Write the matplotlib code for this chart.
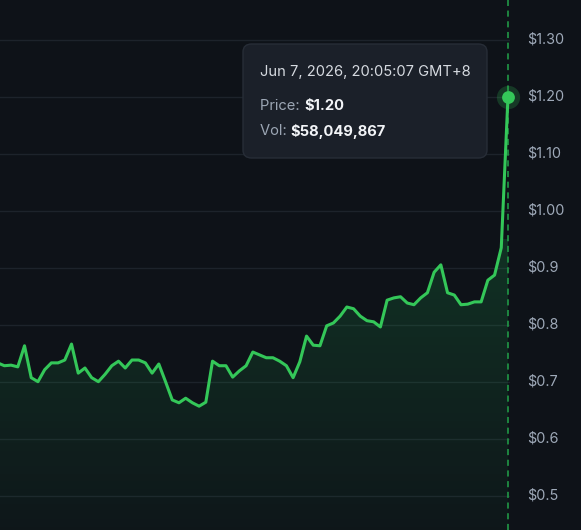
import numpy as np
import matplotlib.pyplot as plt
from matplotlib.patches import FancyBboxPatch
from matplotlib.colors import LinearSegmentedColormap

plt.rcParams['font.family'] = ['Inter', 'DejaVu Sans']

# ── 데이터 ───────────────────────────────────────────────────
prices = [
    0.733, 0.728, 0.729, 0.726, 0.763, 0.707, 0.700, 0.721, 0.733, 0.733,
    0.738, 0.766, 0.715, 0.724, 0.707, 0.700, 0.713, 0.728, 0.736, 0.724,
    0.738, 0.738, 0.733, 0.715, 0.731, 0.700, 0.668, 0.663, 0.671, 0.663,
    0.657, 0.664, 0.736, 0.728, 0.728, 0.708, 0.719, 0.728, 0.752, 0.747,
    0.742, 0.742, 0.736, 0.728, 0.707, 0.735, 0.780, 0.764, 0.763, 0.798,
    0.803, 0.815, 0.831, 0.828, 0.815, 0.807, 0.805, 0.796, 0.843, 0.847,
    0.849, 0.838, 0.835, 0.847, 0.856, 0.892, 0.905, 0.856, 0.852, 0.835,
    0.836, 0.840, 0.840, 0.878, 0.887, 0.935, 1.200,
]
tick_values = [1.30, 1.20, 1.10, 1.00, 0.9, 0.8, 0.7, 0.6, 0.5]
tick_labels = ["$1.30", "$1.20", "$1.10", "$1.00", "$0.9", "$0.8", "$0.7", "$0.6", "$0.5"]
hover_time = "Jun 7, 2026, 20:05:07 GMT+8"
hover_price = "$1.20"
hover_vol = "$58,049,867"

BG = '#0e1218'
GREEN = '#34c759'
GRID = '#1d232b'
TICK = '#9ea9b8'

x = np.arange(len(prices))
y = np.array(prices)

fig = plt.figure(figsize=(5.81, 5.30), dpi=100, facecolor=BG)
ax = fig.add_axes([0, 0, 510 / 581, 1])
ax.set_facecolor(BG)

ymin, ymax = 0.4398, 1.3696
xmax = len(prices) - 1 + 0.3
xmin = xmax - 75.95
ax.set_xlim(xmin, xmax)
ax.set_ylim(ymin, ymax)

# 그리드
for v in tick_values:
    ax.axhline(v, color=GRID, lw=1, zorder=0)

# 그라데이션 채우기
cmap = LinearSegmentedColormap.from_list('g', [(0.13, 0.77, 0.37, 0.03), (0.13, 0.77, 0.37, 0.18)])
grad = np.linspace(0, 1, 256).reshape(-1, 1)
poly = ax.fill_between(x, y, ymin, color='none', lw=0)
img = ax.imshow(grad, cmap=cmap, aspect='auto', origin='lower',
                extent=[xmin, xmax, ymin, 0.95], zorder=1)
img.set_clip_path(poly.get_paths()[0], transform=ax.transData)

ax.plot(x, y, color=GREEN, lw=2.2, solid_joinstyle='round', zorder=3)

# 호버 표시
ax.axvline(x[-1], color='#22a34a', lw=1.1, ls=(0, (4, 3)), zorder=2)
ax.scatter([x[-1]], [y[-1]], s=280, color=GREEN, alpha=0.22, lw=0, zorder=4, clip_on=False)
ax.scatter([x[-1]], [y[-1]], s=85, color=GREEN, lw=0, zorder=5, clip_on=False)

for s in ax.spines.values():
    s.set_visible(False)
ax.set_xticks([])
ax.set_yticks([])

# y축 라벨 (오른쪽)
for v, lab in zip(tick_values, tick_labels):
    yf = (v - ymin) / (ymax - ymin)
    fig.text(527 / 581, yf, lab, color=TICK, fontsize=10.4, ha='left', va='center')

# 툴팁
box = FancyBboxPatch((243 / 581, 1 - 158 / 530), 244 / 581, 114 / 530,
                     boxstyle='round,pad=0,rounding_size=0.015',
                     transform=fig.transFigure, facecolor='#1b2029',
                     edgecolor='#272d37', lw=1, zorder=10)
fig.add_artist(box)
fig.text(260 / 581, 1 - 72 / 530, hover_time, color='#d6dae0', fontsize=10.6,
         va='center', ha='left', zorder=11)
fig.text(260 / 581, 1 - 106 / 530, "Price: ", color='#9ca6b4', fontsize=10.6,
         va='center', ha='left', zorder=11)
fig.text(304 / 581, 1 - 106 / 530, hover_price, color='#f2f4f7', fontsize=10.6,
         fontweight='bold', va='center', ha='left', zorder=11)
fig.text(260 / 581, 1 - 131 / 530, "Vol: ", color='#9ca6b4', fontsize=10.6,
         va='center', ha='left', zorder=11)
fig.text(290 / 581, 1 - 131 / 530, hover_vol, color='#f2f4f7', fontsize=10.6,
         fontweight='bold', va='center', ha='left', zorder=11)

fig.savefig('out.png', dpi=100, facecolor=BG)
